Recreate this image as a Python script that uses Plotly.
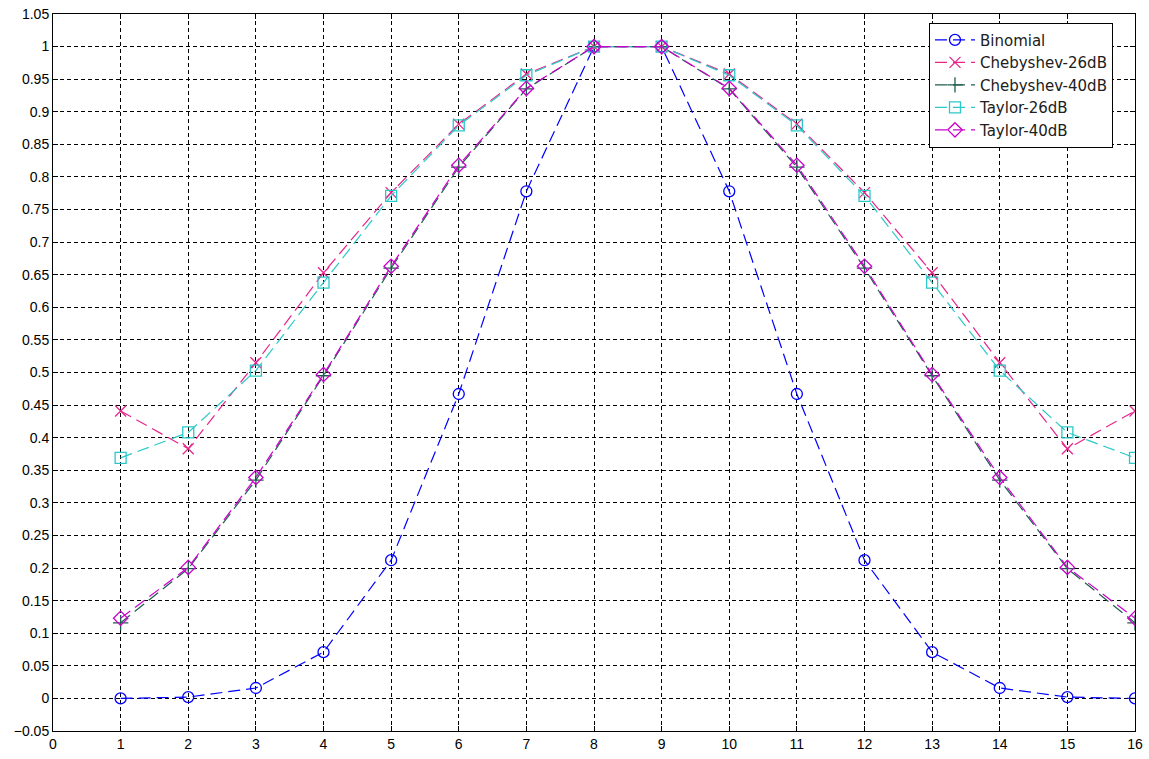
import plotly.graph_objects as go

elements = list(range(1, 17))
binomial = [0.0, 0.002, 0.016, 0.071, 0.212, 0.467, 0.778, 1.0,
            1.0, 0.778, 0.467, 0.212, 0.071, 0.016, 0.002, 0.0]
cheb26 = [0.441, 0.383, 0.515, 0.653, 0.776, 0.881, 0.958, 1.0,
          1.0, 0.958, 0.881, 0.776, 0.653, 0.515, 0.383, 0.441]
cheb40 = [0.116, 0.199, 0.335, 0.495, 0.660, 0.815, 0.935, 1.0,
          1.0, 0.935, 0.815, 0.660, 0.495, 0.335, 0.199, 0.116]
taylor26 = [0.369, 0.408, 0.503, 0.638, 0.771, 0.879, 0.956, 1.0,
            1.0, 0.956, 0.879, 0.771, 0.638, 0.503, 0.408, 0.369]
taylor40 = [0.123, 0.201, 0.339, 0.497, 0.663, 0.818, 0.936, 1.0,
            1.0, 0.936, 0.818, 0.663, 0.497, 0.339, 0.201, 0.123]

series = [
    ("Binomial", binomial, "#0000FF", "circle-open"),
    ("Chebyshev-26dB", cheb26, "#E8258C", "x-thin-open"),
    ("Chebyshev-40dB", cheb40, "#1E5E50", "cross-thin-open"),
    ("Taylor-26dB", taylor26, "#2CC8C8", "square-open"),
    ("Taylor-40dB", taylor40, "#CC00CC", "diamond-open"),
]

fig = go.Figure()
for name, vals, col, sym in series:
    fig.add_trace(go.Scatter(
        x=elements, y=vals, name=name, mode="lines+markers",
        line=dict(color=col, width=1.2, dash="12px,6px"),
        marker=dict(symbol=sym, size=11, color=col, line=dict(color=col, width=1.3)),
    ))

axis_common = dict(
    showgrid=True, gridcolor="black", griddash="4px,3px", gridwidth=1,
    showline=True, linecolor="black", linewidth=1, mirror="ticks",
    ticks="inside", ticklen=5, tickcolor="black", zeroline=False,
    automargin=False,
    tickfont=dict(family="Liberation Sans, Arial", size=14, color="black"),
)

fig.update_layout(
    width=1149, height=759,
    margin=dict(l=53, r=14, t=14, b=28),
    paper_bgcolor="white", plot_bgcolor="white",
    xaxis=dict(range=[0, 16], tickmode="linear", tick0=0, dtick=1, **axis_common),
    yaxis=dict(range=[-0.05, 1.05], tickmode="linear", tick0=-0.05, dtick=0.05,
               tickformat="~g", **axis_common),
    legend=dict(x=0.8096, y=0.988, xanchor="left", yanchor="top",
                bgcolor="white", bordercolor="black", borderwidth=1,
                font=dict(family="DejaVu Sans", size=15, color="#202020"),
                itemwidth=40, tracegroupgap=0),
    showlegend=True,
)

fig.write_html("out.html")
